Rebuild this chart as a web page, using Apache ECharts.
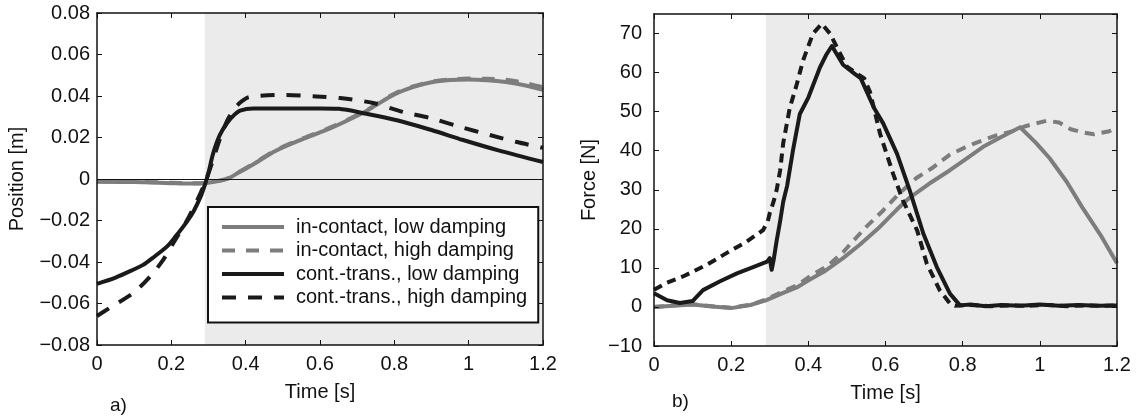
<!DOCTYPE html>
<html>
<head>
<meta charset="utf-8">
<script src="https://cdn.jsdelivr.net/npm/echarts@6/dist/echarts.min.js"></script>
<style>
  html, body { margin: 0; padding: 0; background: #fff; }
  #chart { width: 1139px; height: 417px; }
</style>
</head>
<body>
<div id="chart"></div>
<script>
// legend names
const seriesNames = [
  'in-contact, low damping',
  'in-contact, high damping',
  'cont.-trans., low damping',
  'cont.-trans., high damping'
]

// shaded contact phase (time, s)
const contactStart = 0.29
const timeEnd = 1.2

// a) position [m]
const posInLowT = [0, 0.1, 0.2, 0.25, 0.29, 0.32, 0.35, 0.38, 0.42, 0.48, 0.55, 0.63, 0.72, 0.75, 0.8, 0.85, 0.9, 0.95, 1.0, 1.05, 1.1, 1.15, 1.2]
const posInLowV = [-0.0013, -0.0015, -0.002, -0.0022, -0.002, -0.0012, 0.0, 0.003, 0.007, 0.0135, 0.019, 0.0246, 0.0323, 0.0355, 0.0408, 0.0443, 0.0466, 0.0477, 0.048, 0.0476, 0.0467, 0.0452, 0.043]

const posInHighT = [0, 0.1, 0.2, 0.25, 0.29, 0.32, 0.35, 0.38, 0.42, 0.48, 0.55, 0.63, 0.72, 0.75, 0.8, 0.85, 0.9, 0.95, 1.0, 1.05, 1.1, 1.15, 1.2]
const posInHighV = [-0.0011, -0.0013, -0.0018, -0.002, -0.0019, -0.0011, 0.0002, 0.0032, 0.0073, 0.0138, 0.0193, 0.025, 0.0326, 0.0358, 0.0411, 0.0446, 0.0469, 0.048, 0.0484, 0.0483, 0.0478, 0.0463, 0.0442]

const posCtLowT = [0, 0.05, 0.1, 0.124, 0.15, 0.188, 0.21, 0.24, 0.26, 0.28, 0.29, 0.3, 0.312, 0.33, 0.35, 0.37, 0.385, 0.42, 0.5, 0.6, 0.65, 0.72, 0.81, 0.9, 0.985, 1.08, 1.2]
const posCtLowV = [-0.0505, -0.0475, -0.0435, -0.0414, -0.038, -0.0326, -0.028, -0.021, -0.0155, -0.008, -0.003, 0.003, 0.012, 0.021, 0.027, 0.031, 0.033, 0.034, 0.034, 0.034, 0.0338, 0.0316, 0.0282, 0.0236, 0.0188, 0.0138, 0.0082]

const posCtHighT = [0, 0.035, 0.097, 0.143, 0.178, 0.205, 0.242, 0.27, 0.29, 0.31, 0.33, 0.35, 0.37, 0.39, 0.41, 0.5, 0.59, 0.654, 0.743, 0.824, 0.896, 0.977, 1.057, 1.13, 1.2]
const posCtHighV = [-0.066, -0.062, -0.055, -0.047, -0.039, -0.031, -0.02, -0.01, -0.002, 0.008, 0.019, 0.028, 0.034, 0.0375, 0.0395, 0.0405, 0.0398, 0.039, 0.0366, 0.0323, 0.0294, 0.0251, 0.0212, 0.0178, 0.015]

// b) force [N]
const forceInLowT = [0, 0.05, 0.1, 0.15, 0.2, 0.25, 0.29, 0.335, 0.37, 0.404, 0.44, 0.49, 0.534, 0.58, 0.63, 0.663, 0.72, 0.767, 0.81, 0.853, 0.9, 0.949, 0.99, 1.026, 1.07, 1.11, 1.16, 1.2]
const forceInLowV = [0, 0.3, 0.6, 0.1, -0.3, 0.5, 1.7, 3.6, 5, 7, 9, 12.5, 16, 20, 25, 28, 32, 35, 38, 41, 43.5, 46, 42, 38, 32, 25.5, 18, 11.2]

const forceInHighT = [0, 0.05, 0.1, 0.15, 0.2, 0.25, 0.29, 0.335, 0.37, 0.41, 0.45, 0.49, 0.508, 0.55, 0.594, 0.63, 0.68, 0.72, 0.767, 0.82, 0.889, 0.93, 0.96, 0.99, 1.019, 1.05, 1.08, 1.11, 1.14, 1.18, 1.2]
const forceInHighV = [0, 0.4, 0.7, 0.2, -0.2, 0.6, 1.9, 4, 5.5, 8.2, 10.5, 14, 16, 20.5, 24.7, 28.5, 33, 35.5, 39, 41.5, 44, 45, 46.2, 47, 47.7, 47.2, 45.5, 44.7, 44.2, 45, 46]

const forceCtLowT = [0, 0.034, 0.067, 0.1, 0.127, 0.17, 0.215, 0.257, 0.293, 0.3, 0.305, 0.31, 0.318, 0.327, 0.335, 0.345, 0.36, 0.378, 0.4, 0.43, 0.446, 0.461, 0.475, 0.49, 0.516, 0.536, 0.552, 0.57, 0.594, 0.63, 0.663, 0.698, 0.733, 0.767, 0.793, 0.82, 0.86, 0.9, 0.95, 1.0, 1.05, 1.1, 1.15, 1.2]
const forceCtLowV = [3.5, 1.7, 1.0, 1.5, 4.3, 6.5, 8.6, 10.2, 11.6, 12.5, 9.5, 12, 17, 22, 27, 31, 40, 49.4, 53.6, 61.3, 64.5, 66.8, 64.5, 62, 60, 58.5, 55, 51, 47, 39.2, 29.8, 18.8, 10.2, 3.4, 0.4, 0.6, 0.2, 0.5, 0.3, 0.6, 0.3, 0.5, 0.3, 0.4]

const forceCtHighT = [0, 0.033, 0.075, 0.137, 0.19, 0.24, 0.283, 0.295, 0.3, 0.31, 0.318, 0.327, 0.335, 0.352, 0.37, 0.386, 0.412, 0.435, 0.456, 0.474, 0.5, 0.53, 0.545, 0.56, 0.586, 0.62, 0.645, 0.682, 0.707, 0.741, 0.767, 0.78, 0.82, 0.87, 0.92, 0.97, 1.02, 1.07, 1.12, 1.17, 1.2]
const forceCtHighV = [4.4, 6.2, 7.8, 10.8, 13.9, 16.7, 19.7, 22, 24, 27, 30, 35, 42, 51, 57, 63, 70, 72.5, 70, 66.5, 61.5, 59.5, 58.5, 55, 44.3, 34, 27.3, 19.6, 11.1, 4.2, 0.9, 0.3, 0.5, 0.2, 0.4, 0.3, 0.5, 0.2, 0.4, 0.3, 0.4]

// axis ticks
const timeTicks = { min: 0, max: 1.2, interval: 0.2 }
const posTicks = { min: -0.08, max: 0.08, interval: 0.02 }
const forceTicks = { min: -10, max: 75, interval: 10 }

const GRAY = '#7d7d7d'
const BLACK = '#1a1a1a'
const SHADE = '#ebebeb'
const FONT = '"Liberation Sans", Arial, Helvetica, sans-serif'
const FS = 20

const pairs = (t, v) => t.map((x, i) => [x, v[i]])

function lineSeries(name, t, v, grid, color, dash, width, smooth) {
  return {
    name,
    type: 'line',
    xAxisIndex: grid * 2,
    yAxisIndex: grid * 2,
    data: pairs(t, v),
    symbol: 'none',
    showSymbol: false,
    smooth: smooth || false,
    z: 3,
    lineStyle: { color, width, type: dash, cap: 'butt', join: 'round' },
    itemStyle: { color }
  }
}

// background shading + zero line, one per grid
function shadeSeries(grid, withZeroLine) {
  const s = {
    name: 'shade' + grid,
    type: 'line',
    xAxisIndex: grid * 2,
    yAxisIndex: grid * 2,
    data: [],
    symbol: 'none',
    z: 1,
    silent: true,
    markArea: {
      silent: true,
      itemStyle: { color: SHADE },
      data: [[{ xAxis: contactStart }, { xAxis: timeEnd }]]
    }
  }
  if (withZeroLine) {
    s.markLine = {
      silent: true,
      symbol: 'none',
      label: { show: false },
      lineStyle: { color: '#111', width: 1, type: 'solid' },
      data: [{ yAxis: 0 }]
    }
  }
  return s
}

const frameLine = { onZero: false, lineStyle: { color: '#111', width: 1.5 } }
const innerTick = { inside: true, length: 5, lineStyle: { color: '#111', width: 1 } }

function xAxes(grid) {
  return [
    {
      gridIndex: grid, type: 'value', position: 'bottom', z: 5, ...timeTicks,
      axisLine: frameLine, axisTick: innerTick, splitLine: { show: false },
      axisLabel: {
        color: '#111', fontSize: FS, fontFamily: FONT, margin: 9,
        formatter: v => String(Math.round(v * 10) / 10)
      },
      name: 'Time [s]', nameLocation: 'middle', nameGap: 37,
      nameTextStyle: { color: '#111', fontSize: FS, fontFamily: FONT }
    },
    {
      gridIndex: grid, type: 'value', position: 'top', z: 5, ...timeTicks,
      axisLine: frameLine, axisTick: innerTick, splitLine: { show: false },
      axisLabel: { show: false }
    }
  ]
}

function yAxes(grid, ticks, name, gap, margin, fmt, showMax) {
  return [
    {
      gridIndex: grid, type: 'value', position: 'left', z: 5, ...ticks,
      axisLine: frameLine, axisTick: innerTick, splitLine: { show: false },
      axisLabel: {
        color: '#111', fontSize: FS, fontFamily: FONT, margin,
        showMaxLabel: showMax,
        formatter: fmt
      },
      name, nameLocation: 'middle', nameRotate: 90, nameGap: gap,
      nameTextStyle: { color: '#111', fontSize: FS, fontFamily: FONT }
    },
    {
      gridIndex: grid, type: 'value', position: 'right', z: 5, ...ticks,
      axisLine: frameLine, axisTick: innerTick, splitLine: { show: false },
      axisLabel: { show: false }
    }
  ]
}

const posFmt = v => (Math.abs(v) < 1e-9 ? '0' : v.toFixed(2).replace('-', '\u2212'))
const forceFmt = v => String(Math.round(v)).replace('-', '\u2212')

const chart = echarts.init(document.getElementById('chart'), null, { renderer: 'canvas' })

chart.setOption({
  animation: false,
  backgroundColor: '#fff',
  grid: [
    { left: 97, right: 596, top: 13, bottom: 72 },
    { left: 654, right: 22, top: 14, bottom: 71 }
  ],
  xAxis: [...xAxes(0), ...xAxes(1)],
  yAxis: [
    ...yAxes(0, posTicks, 'Position [m]', 70, 7, posFmt, true),
    ...yAxes(1, forceTicks, 'Force [N]', 55, 12, forceFmt, false)
  ],
  legend: {
    data: seriesNames,
    selectedMode: false,
    orient: 'vertical',
    left: 208,
    top: 207,
    backgroundColor: '#fff',
    borderColor: '#111',
    borderWidth: 2,
    borderRadius: 0,
    padding: [10, 11, 15, 12],
    itemWidth: 62,
    itemHeight: 14,
    itemGap: 3.5,
    itemStyle: { opacity: 0 },
    lineStyle: { width: 4 },
    textStyle: { color: '#111', fontSize: FS, fontFamily: FONT, padding: [0, 0, 0, 7] }
  },
  graphic: [
    { type: 'text', left: 110, top: 396, style: { text: 'a)', fontSize: 19, fontFamily: FONT, fill: '#111' } },
    { type: 'text', left: 672, top: 392, style: { text: 'b)', fontSize: 19, fontFamily: FONT, fill: '#111' } }
  ],
  series: [
    shadeSeries(0, true),
    lineSeries(seriesNames[0], posInLowT, posInLowV, 0, GRAY, 'solid', 4, 0.3),
    lineSeries(seriesNames[1], posInHighT, posInHighV, 0, GRAY, [13, 11], 4, 0.3),
    lineSeries(seriesNames[2], posCtLowT, posCtLowV, 0, BLACK, 'solid', 4, 0.3),
    lineSeries(seriesNames[3], posCtHighT, posCtHighV, 0, BLACK, [14, 12], 4, 0.3),
    shadeSeries(1, false),
    lineSeries(seriesNames[0], forceInLowT, forceInLowV, 1, GRAY, 'solid', 4),
    lineSeries(seriesNames[1], forceInHighT, forceInHighV, 1, GRAY, [10, 7], 4),
    lineSeries(seriesNames[2], forceCtLowT, forceCtLowV, 1, BLACK, 'solid', 4),
    lineSeries(seriesNames[3], forceCtHighT, forceCtHighV, 1, BLACK, [9, 6], 4)
  ]
})
</script>
</body>
</html>
